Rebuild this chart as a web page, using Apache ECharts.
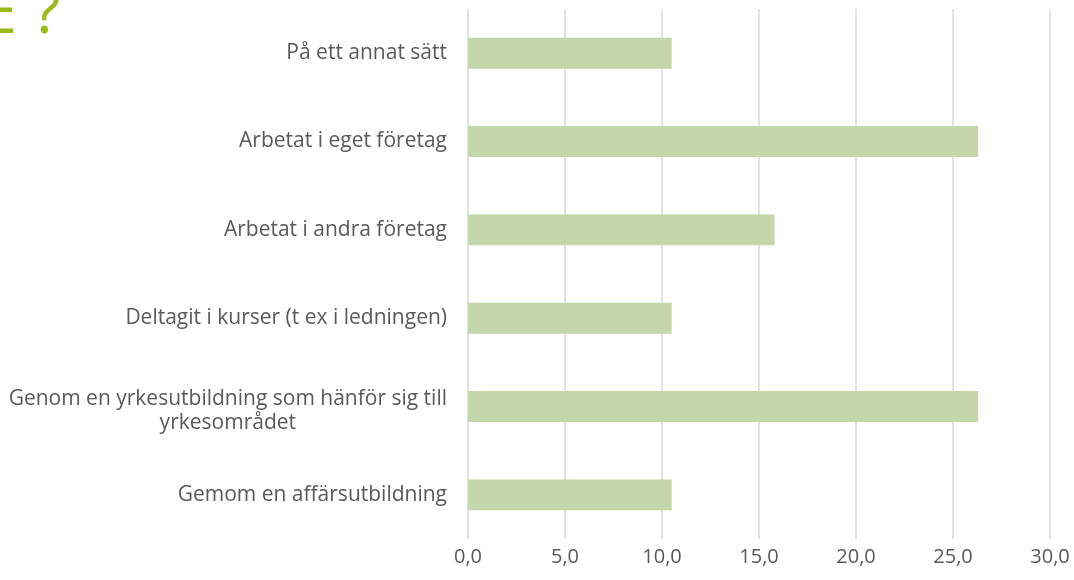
<!DOCTYPE html>
<html>
<head>
<meta charset="utf-8">
<script src="https://cdn.jsdelivr.net/npm/echarts@6/dist/echarts.min.js"></script>
<style>
  html, body { margin: 0; padding: 0; background: #fff; }
  #main { width: 1074px; height: 580px; }
</style>
</head>
<body>
<div id="main"></div>
<script>
// kategorier, uppifrån och ned
const categories = [
  'På ett annat sätt',
  'Arbetat i eget företag',
  'Arbetat i andra företag',
  'Deltagit i kurser (t ex i ledningen)',
  'Genom en yrkesutbildning som hänför sig till\nyrkesområdet',
  'Gemom en affärsutbildning'
];
const values = [10.5, 26.3, 15.8, 10.5, 26.3, 10.5];
const tickMin = 0;
const tickMax = 30;
const tickStep = 5;

const chart = echarts.init(document.getElementById('main'));
const fontFamily = '"Open Sans", "Noto Sans", sans-serif';

// tvåradiga etiketter sitter lite lägre i originalet
const yData = categories.map(c => c.indexOf('\n') >= 0
  ? { value: c, textStyle: { padding: [10, 0, 0, 0] } }
  : c);

chart.setOption({
  backgroundColor: '#fff',
  animation: false,
  graphic: [{
    type: 'text',
    left: -18,
    top: -16,
    style: {
      text: 'E ?',
      fontSize: 63,
      fontFamily: fontFamily,
      fill: '#9bbb1c'
    }
  }],
  grid: {
    left: 468,
    right: 24,
    top: 9,
    bottom: 41
  },
  xAxis: {
    type: 'value',
    min: tickMin,
    max: tickMax,
    interval: tickStep,
    axisLine: { show: false },
    axisTick: { show: false },
    axisLabel: {
      margin: 8,
      color: '#595959',
      fontSize: 20,
      fontFamily: fontFamily,
      formatter: v => v.toFixed(1).replace('.', ',')
    },
    splitLine: {
      lineStyle: { color: '#d9d9d9', width: 1.5 }
    }
  },
  yAxis: {
    type: 'category',
    inverse: true,
    data: yData,
    axisLine: { show: false },
    axisTick: { show: false },
    axisLabel: {
      margin: 21,
      color: '#595959',
      fontSize: 21,
      lineHeight: 24,
      fontFamily: fontFamily,
      align: 'right',
      // raderna centreras inom etikettens block
      formatter: v => v.split('\n').map(s => '{c|' + s + '}').join('\n'),
      rich: {
        c: {
          align: 'center',
          color: '#595959',
          fontSize: 21,
          lineHeight: 24,
          fontFamily: fontFamily
        }
      }
    }
  },
  series: [{
    type: 'bar',
    data: values,
    barWidth: '35%',
    itemStyle: { color: '#c4d6aa' }
  }]
});
</script>
</body>
</html>
